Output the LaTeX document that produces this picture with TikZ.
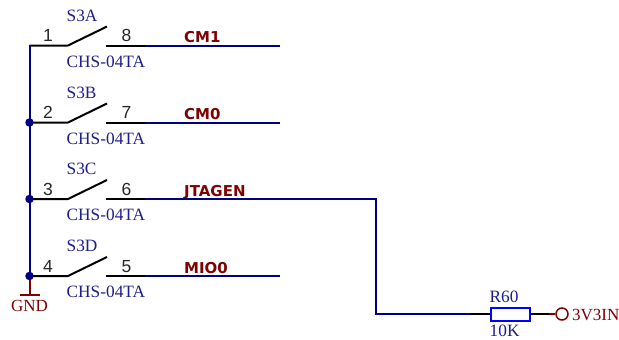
\documentclass[tikz,border=0pt]{standalone}
\usepackage{fontspec}
\setmainfont{Liberation Serif}
\newfontfamily\pinfont{Liberation Sans}
\newfontfamily\netfont{DejaVu Sans}
\definecolor{wireblue}{RGB}{0,0,128}
\definecolor{partblue}{RGB}{30,30,140}
\definecolor{netred}{RGB}{128,0,0}
\definecolor{resblue}{RGB}{0,0,255}
\newcommand{\sz}[1]{\fontsize{#1}{#1}\selectfont}
\tikzset{
  x=1pt,y=-1pt,
  wire/.style={draw=wireblue,line width=2pt},
  pin/.style={draw=black,line width=2pt},
  redline/.style={draw=netred,line width=2pt},
  junction/.style={circle,fill=wireblue,inner sep=0pt,minimum size=8.5pt},
  partlabel/.style={text=partblue,inner sep=0pt,anchor=base west,font=\sz{17.3}},
  pinlabel/.style={text=black!85,inner sep=0pt,anchor=base,font=\pinfont\sz{17.5}},
  netlabel/.style={text=netred,inner sep=0pt,anchor=base west,font=\netfont\bfseries\sz{15}},
  powerlabel/.style={text=netred,inner sep=0pt,font=\sz{17}},
  resistor/.style={draw=resblue,fill=white,line width=2pt,inner sep=0pt,minimum width=39pt,minimum height=13pt},
  powerpin/.style={circle,draw=netred,line width=1.5pt,inner sep=0pt,minimum size=12pt}
}
\begin{document}
\begin{tikzpicture}
\useasboundingbox (0,0) rectangle (619,340);
\foreach \nm/\y/\pl/\pr/\lab/\net in {
  A/45.5/1/8/S3A/CM1,
  B/122.5/2/7/S3B/CM0,
  C/199/3/6/S3C/JTAGEN,
  D/276/4/5/S3D/MIO0}{
  \coordinate (L\nm) at (29.5,\y);
  \coordinate (H\nm) at (68,\y);
  \coordinate (T\nm) at (107,\y-19);
  \coordinate (R\nm) at (106,\y);
  \coordinate (P\nm) at (145,\y);
  \draw[pin] (L\nm) -- (H\nm) -- (T\nm);
  \draw[pin] (R\nm) -- (P\nm);
  \node[pinlabel] at (48,\y-4) {\pl};
  \node[pinlabel] at (126.5,\y-4) {\pr};
  \node[partlabel] at (66.5,\y-24.3) {\lab};
  \node[partlabel] at (66.5,\y+21.7) {CHS-04TA};
  \node[netlabel] at (184,\y-3) {\net};
}
\coordinate (EA) at (280,45.5);
\coordinate (EB) at (280,122.5);
\coordinate (ED) at (280,276);
\coordinate (C1) at (376,199);
\coordinate (C2) at (376,314);
\coordinate (RL) at (470,314);
\node[resistor] (r60) at (510.5,314) {};
\node[powerpin] (v3) at (562,314) {};
\coordinate (RE) at (549,314);
\coordinate (GT) at (29.5,295);
\coordinate (GA) at (20,295);
\coordinate (GB) at (40,295);
\draw[redline] (LD) -- (GT);
\draw[redline] (GA) -- (GB);
\draw[wire,line cap=rect] (LA) -- (LD);
\draw[wire] (PA) -- (EA);
\draw[wire] (PB) -- (EB);
\draw[wire] (PD) -- (ED);
\draw[wire] (PC) -- (C1) -- (C2) -- (RL);
\draw[pin] (RL) -- (r60.west);
\draw[pin] (r60.east) -- (RE);
\draw[redline] (RE) -- (v3.west);
\node[junction] at (LB) {};
\node[junction] at (LC) {};
\node[junction] at (LD) {};
\node[powerlabel] at (29.5,305.5) {GND};
\node[partlabel] at (489.5,302.7) {R60};
\node[partlabel] at (489.5,336.5) {10K};
\node[powerlabel,anchor=base west] at (572,320) {3V3IN};
\end{tikzpicture}
\end{document}
